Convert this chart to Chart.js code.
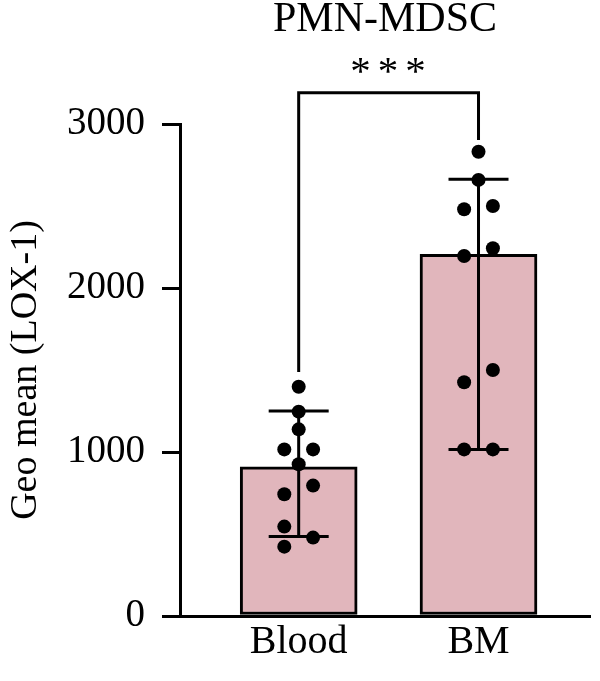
<!DOCTYPE html>
<html><head><meta charset="utf-8">
<script src="https://cdn.jsdelivr.net/npm/chart.js@4"></script>
<style>html,body{margin:0;padding:0;background:#fff}#wrap{width:600px;height:681px;position:relative}</style>
</head><body><div id="wrap"><canvas id="c" width="600" height="681"></canvas></div>
<script>
const categories = ['Blood', 'BM'];
const barMeans = [910, 2205];
const errLow = [484, 1016];
const errHigh = [1250, 2663];
const bloodPoints = [1398, 1246, 1138, 1016, 1016, 925, 795, 742, 545, 478, 423];
const bloodCols   = [0, 0, 0, -1, 1, 0, 1, -1, -1, 1, -1];
const bmPoints = [2831, 2659, 2480, 2500, 2242, 2195, 1500, 1425, 1016, 1016];
const bmCols   = [0, 0, -1, 1, 1, -1, 1, -1, -1, 1];
const yTicks = [0, 1000, 2000, 3000];
const chartTitle = 'PMN-MDSC';
const yTitle = 'Geo mean (LOX-1)';
const sigLabel = '***';
const bracketTop = 3190;
const bracketLegEnds = [1488, 2902];

const FONT = "'Liberation Serif', 'Times New Roman', serif";
const JITTER = 0.08;

const pointSets = [bloodPoints, bmPoints];
const colSets = [bloodCols, bmCols];
const scatterData = [];
pointSets.forEach((pts, g) => pts.forEach((v, k) => scatterData.push({x: g + 1 + colSets[g][k] * JITTER, y: v})));

const overlay = {
  id: 'overlay',
  afterDatasetDraw(chart, args) {
    if (args.index !== 0) return;
    const {ctx, scales: {x, y}} = chart;
    ctx.save();
    ctx.strokeStyle = '#000'; ctx.lineWidth = 3;
    categories.forEach((c, i) => {
      const px = x.getPixelForValue(i + 1);
      const yl = y.getPixelForValue(errLow[i]), yh = y.getPixelForValue(errHigh[i]);
      ctx.beginPath();
      ctx.moveTo(px, yl); ctx.lineTo(px, yh);
      ctx.moveTo(px - 30, yh); ctx.lineTo(px + 30, yh);
      ctx.moveTo(px - 30, yl); ctx.lineTo(px + 30, yl);
      ctx.stroke();
    });
    ctx.restore();
  },
  afterDraw(chart) {
    const {ctx, chartArea, scales: {x, y}} = chart;
    const x1 = x.getPixelForValue(1), x2 = x.getPixelForValue(2);
    const top = y.getPixelForValue(bracketTop);
    ctx.save();
    ctx.strokeStyle = '#000'; ctx.lineWidth = 3; ctx.lineJoin = 'miter';
    ctx.beginPath();
    ctx.moveTo(x1, y.getPixelForValue(bracketLegEnds[0]));
    ctx.lineTo(x1, top); ctx.lineTo(x2, top);
    ctx.lineTo(x2, y.getPixelForValue(bracketLegEnds[1]));
    ctx.stroke();
    ctx.fillStyle = '#000';
    ctx.textAlign = 'center'; ctx.textBaseline = 'alphabetic';
    ctx.font = `42px ${FONT}`;
    const cx = (chartArea.left + chartArea.right) / 2;
    ctx.fillText(chartTitle, cx, 31);
    ctx.font = `41px ${FONT}`;
    ctx.letterSpacing = '7px';
    ctx.fillText(sigLabel, (x1 + x2) / 2 + 3, 84);
    ctx.restore();
  }
};

new Chart(document.getElementById('c'), {
  type: 'bar',
  data: {
    datasets: [
      {
        type: 'bar',
        data: categories.map((c, i) => ({x: i + 1, y: barMeans[i]})),
        backgroundColor: '#e1b6bc',
        borderColor: '#000',
        borderWidth: 3,
        borderSkipped: false,
        barThickness: 117,
        order: 2
      },
      {
        type: 'scatter',
        data: scatterData,
        pointRadius: 7,
        pointHoverRadius: 7,
        backgroundColor: '#000',
        borderWidth: 0,
        order: 1
      }
    ]
  },
  options: {
    responsive: false,
    animation: false,
    events: [],
    layout: {padding: {top: 124, right: 10, left: 0, bottom: 0}},
    plugins: {legend: {display: false}, tooltip: {enabled: false}, title: {display: false}},
    scales: {
      x: {
        type: 'linear',
        offset: false,
        min: 0.34, max: 2.62,
        afterBuildTicks: s => { s.ticks = [{value: 1}, {value: 2}]; },
        afterFit: s => { s.height = 65; },
        ticks: {
          autoSkip: false, maxRotation: 0,
          callback: v => categories[Math.round(v) - 1],
          font: {family: FONT, size: 40}, color: '#000', padding: 2
        },
        grid: {offset: false, drawOnChartArea: false, drawTicks: false},
        border: {color: '#000', width: 3}
      },
      y: {
        min: 0, max: 3000,
        afterBuildTicks: s => { s.ticks = yTicks.map(v => ({value: v})); },
        afterFit: s => { s.width = 180; },
        ticks: {font: {family: FONT, size: 39}, color: '#000', padding: 17, callback: v => String(v)},
        grid: {drawOnChartArea: false, drawTicks: true, tickLength: 18, tickColor: '#000', tickWidth: 3, lineWidth: 3, color: '#000'},
        border: {color: '#000', width: 3},
        title: {display: true, text: yTitle, font: {family: FONT, size: 38}, color: '#000', padding: {top: 3, bottom: 0}}
      }
    }
  },
  plugins: [overlay]
});
</script>
</body></html>
